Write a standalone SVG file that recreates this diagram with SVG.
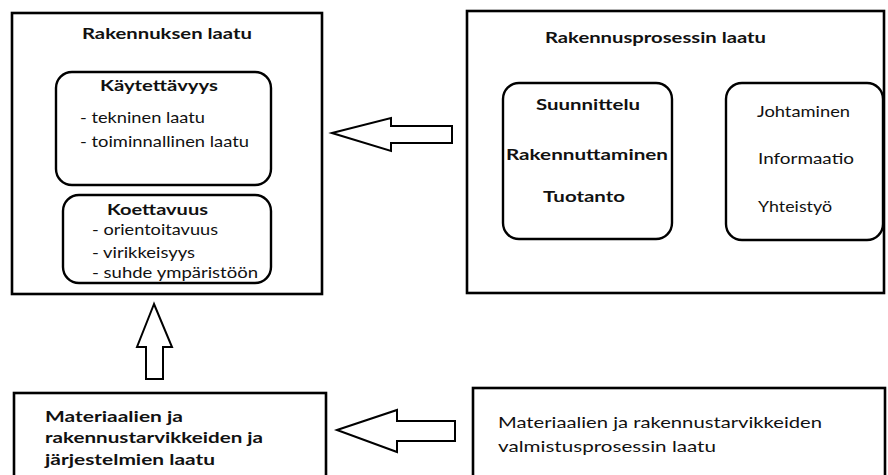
<svg xmlns="http://www.w3.org/2000/svg" width="888" height="475" viewBox="0 0 888 475">
<style>
.box{fill:#fff;stroke:#000;stroke-width:2.6}
.rbox{fill:#fff;stroke:#000;stroke-width:2.4}
.arrow{fill:#fff;stroke:#000;stroke-width:2;stroke-linejoin:miter}
text{font-family:Lato,"Open Sans","Liberation Sans",sans-serif;fill:#111;font-size:16px}
.b{font-weight:bold}
</style>
<rect width="888" height="475" fill="#fff"/>
<g id="rakennuksen-laatu">
<rect class="box" x="12" y="13" width="310" height="281"/>
<text class="b" x="82" y="39" textLength="170" lengthAdjust="spacingAndGlyphs">Rakennuksen laatu</text>
</g>
<g id="kaytettavyys">
<rect class="rbox" x="56" y="72" width="215" height="113" rx="16"/>
<text class="b" x="100" y="91" textLength="118" lengthAdjust="spacingAndGlyphs">Käytettävyys</text>
<text x="80" y="123" textLength="125" lengthAdjust="spacingAndGlyphs">- tekninen laatu</text>
<text x="80" y="147" textLength="169" lengthAdjust="spacingAndGlyphs">- toiminnallinen laatu</text>
</g>
<g id="koettavuus">
<rect class="rbox" x="63" y="195" width="208" height="88" rx="16"/>
<text class="b" x="107" y="215" textLength="101" lengthAdjust="spacingAndGlyphs">Koettavuus</text>
<text x="92" y="235" textLength="126" lengthAdjust="spacingAndGlyphs">- orientoitavuus</text>
<text x="92" y="258" textLength="103" lengthAdjust="spacingAndGlyphs">- virikkeisyys</text>
<text x="92" y="278" textLength="166" lengthAdjust="spacingAndGlyphs">- suhde ympäristöön</text>
</g>
<g id="rakennusprosessin-laatu">
<rect class="box" x="467" y="11" width="417" height="282"/>
<text class="b" x="545" y="43" textLength="221" lengthAdjust="spacingAndGlyphs">Rakennusprosessin laatu</text>
</g>
<g id="suunnittelu">
<rect class="rbox" x="503" y="83" width="169" height="156" rx="16"/>
<text class="b" x="536" y="110" textLength="104" lengthAdjust="spacingAndGlyphs">Suunnittelu</text>
<text class="b" x="506" y="160" textLength="162" lengthAdjust="spacingAndGlyphs">Rakennuttaminen</text>
<text class="b" x="543" y="202" textLength="82" lengthAdjust="spacingAndGlyphs">Tuotanto</text>
</g>
<g id="johtaminen">
<rect class="rbox" x="726" y="83" width="157" height="157" rx="16"/>
<text x="757" y="117" textLength="93" lengthAdjust="spacingAndGlyphs">Johtaminen</text>
<text x="758" y="164" textLength="96" lengthAdjust="spacingAndGlyphs">Informaatio</text>
<text x="758" y="212" textLength="74" lengthAdjust="spacingAndGlyphs">Yhteistyö</text>
</g>
<g id="materiaalien-laatu">
<rect class="box" x="14" y="393" width="312" height="95"/>
<text class="b" x="45" y="422" textLength="138" lengthAdjust="spacingAndGlyphs">Materiaalien ja</text>
<text class="b" x="45" y="443" textLength="218" lengthAdjust="spacingAndGlyphs">rakennustarvikkeiden ja</text>
<text class="b" x="45" y="465" textLength="170" lengthAdjust="spacingAndGlyphs">järjestelmien laatu</text>
</g>
<g id="valmistusprosessin-laatu">
<rect class="box" x="473" y="388" width="412" height="100"/>
<text x="498" y="428" textLength="324" lengthAdjust="spacingAndGlyphs">Materiaalien ja rakennustarvikkeiden</text>
<text x="498" y="452" textLength="218" lengthAdjust="spacingAndGlyphs">valmistusprosessin laatu</text>
</g>
<g id="connectors">
<polygon class="arrow" points="332,133 391,118 391,126 452,126 452,143 391,143 391,151"/>
<polygon class="arrow" points="154,304 137,347 146,347 146,379 163,379 163,347 172,347"/>
<polygon class="arrow" points="337,430 397,410 397,421 455,421 455,441 397,441 397,452"/>
</g>
</svg>
